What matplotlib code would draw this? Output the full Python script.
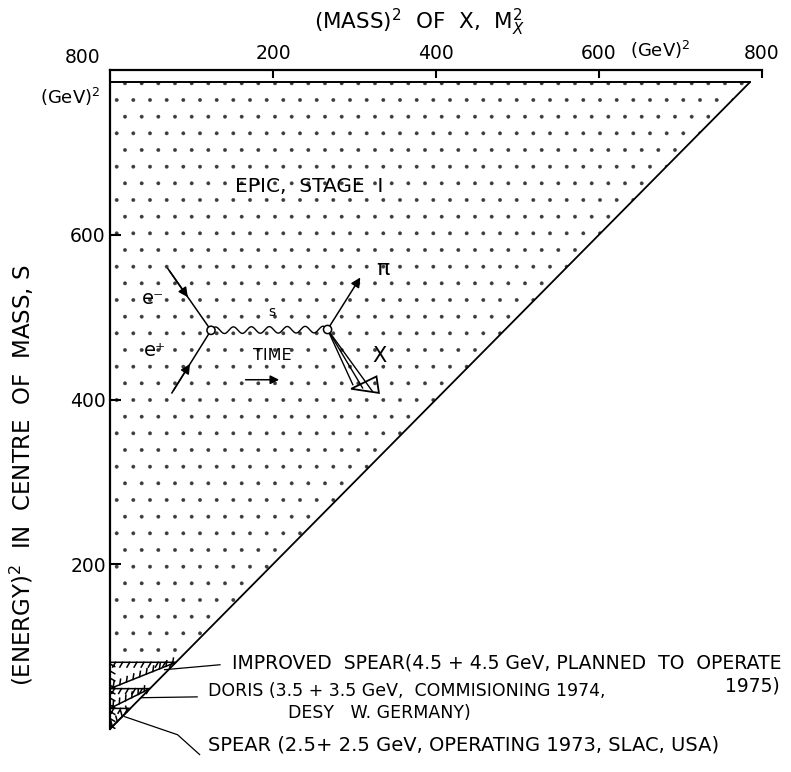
"""
EPIC stage I kinematic region, s versus M_X^2
"""
import numpy as np
import matplotlib.pyplot as plt
from matplotlib import patheffects
from matplotlib.patches import Polygon, Circle

# Data
x_ticks = [200, 400, 600, 800]
y_ticks = [200, 400, 600]
s_max = 785                       # EPIC stage I reach, (GeV)^2
machines = ['SPEAR', 'DORIS', 'IMPROVED SPEAR']
beam_energy = [2.5, 3.5, 4.5]      # GeV per beam
s_values = [25, 49, 81]           # (2E)^2, (GeV)^2
machine_text = [
    ['SPEAR (2.5+ 2.5 GeV, OPERATING 1973, SLAC, USA)'],
    ['DORIS (3.5 + 3.5 GeV,  COMMISIONING 1974,', 'DESY   W. GERMANY)'],
    ['IMPROVED  SPEAR(4.5 + 4.5 GeV, PLANNED  TO  OPERATE', '1975)'],
]

plt.rcParams['font.family'] = 'DejaVu Sans'
plt.rcParams['hatch.linewidth'] = 0.3
fig = plt.figure(figsize=(7.91, 7.72), dpi=100)
ax = fig.add_axes([0.139, 0.0557, 0.8243, 0.8536])
ax.set_xlim(0, 800)
ax.set_ylim(0, 800)

# axes frame: only left and top
for side in ['right', 'bottom']:
    ax.spines[side].set_visible(False)
for side in ['left', 'top']:
    ax.spines[side].set_linewidth(1.6)
ax.xaxis.tick_top()
ax.set_xticks(x_ticks)
ax.set_yticks(y_ticks)
ax.tick_params(axis='x', direction='in', length=6, width=1.5, pad=5, labelsize=13.5)
ax.tick_params(axis='y', direction='in', length=8, width=1.5, pad=3, labelsize=13.5)

# allowed region (stippled triangle)
tri = Polygon([(0, s_values[-1]), (0, s_max), (s_max, s_max), (s_values[-1], s_values[-1])],
              closed=True, facecolor='none', edgecolor='#3a3a3a', hatch='.', lw=0)
ax.add_patch(tri)
ax.plot([0, s_max], [0, s_max], color='black', lw=1.3)
ax.plot([0, s_max], [s_max, s_max], color='black', lw=1.4)

# machine bands, ticked boundaries
prev = 0
for s in s_values:
    ax.plot([0, s, 0, 0], [prev, s, s, prev], color='black', lw=1.1,
            path_effects=[patheffects.withTickedStroke(angle=60, spacing=5, length=0.8)])
    prev = s

# labels for the machines with leader lines
leaders = [([18, 83, 110], [15, -7, -31]),
           ([39, 107], [38, 39]),
           ([67, 135], [72, 78])]
text_pos = [[(120, -19)], [(120, 46), (218, 19)], [(150, 80), (755, 52)]]
text_size = [14, 12.5, 13.5]
for lead, lines, pos, fs in zip(leaders, machine_text, text_pos, text_size):
    ax.plot(lead[0], lead[1], color='black', lw=0.9, clip_on=False)
    for t, (tx, ty) in zip(lines, pos):
        ax.text(tx, ty, t, fontsize=fs, ha='left', va='center', clip_on=False)

# axis texts
ax.text(380, 858, '(MASS)$^2$  OF  X,  M$_X^2$', fontsize=15.5, ha='center', va='center')
ax.text(675, 824, '(GeV)$^2$', fontsize=13, ha='center', va='center')
ax.text(-12, 815, '800', fontsize=13.5, ha='right', va='center')
ax.text(-49, 767, '(GeV)$^2$', fontsize=13, ha='center', va='center')
ax.text(-108, 308, '(ENERGY)$^2$  IN  CENTRE  OF  MASS, S', fontsize=16.5,
        rotation=90, ha='center', va='center')
ax.text(245, 658, 'EPIC,  STAGE  I', fontsize=14.5, ha='center', va='center')

# Feynman diagram sketch
v1 = (124, 484)
v2 = (267, 485)
for start in [(71, 559), (76, 408)]:
    mid = ((start[0] + v1[0]) / 2, (start[1] + v1[1]) / 2)
    ax.plot([start[0], v1[0]], [start[1], v1[1]], color='black', lw=1.1)
    ax.annotate('', xy=mid, xytext=start,
                arrowprops=dict(arrowstyle='-|>', color='black', lw=1.1, mutation_scale=14))
wx = np.linspace(v1[0], v2[0], 300)
wy = np.linspace(v1[1], v2[1], 300) + 4 * np.sin((wx - v1[0]) / (v2[0] - v1[0]) * 2 * np.pi * 6.5)
ax.plot(wx, wy, color='black', lw=1.0)
for v in [v1, v2]:
    ax.add_patch(Circle(v, 5, facecolor='white', edgecolor='black', lw=1.1, zorder=5))
ax.annotate('', xy=(309, 551), xytext=v2,
            arrowprops=dict(arrowstyle='-|>', color='black', lw=1.1, mutation_scale=14))
for end in [(298, 418), (310, 414), (322, 410)]:
    ax.plot([v2[0], end[0]], [v2[1], end[1]], color='black', lw=1.0)
ax.add_patch(Polygon([(296, 413), (330, 408), (327, 428)], closed=True,
                     facecolor='none', edgecolor='black', lw=1.3))
ax.annotate('', xy=(211, 424), xytext=(163, 424),
            arrowprops=dict(arrowstyle='-|>', color='black', lw=1.1, mutation_scale=13))
ax.text(53, 523, 'e\u207b', fontsize=14, ha='center', va='center')
ax.text(55, 460, 'e\u207a', fontsize=14, ha='center', va='center')
ax.text(199, 506, 's', fontsize=10, ha='center', va='center')
ax.text(199, 454, 'TIME', fontsize=11.5, ha='center', va='center')
ax.text(335, 559, '\u03c0', fontsize=16, ha='center', va='center')
ax.text(331, 453, 'X', fontsize=15, ha='center', va='center')

plt.savefig('out.png', dpi=100)
